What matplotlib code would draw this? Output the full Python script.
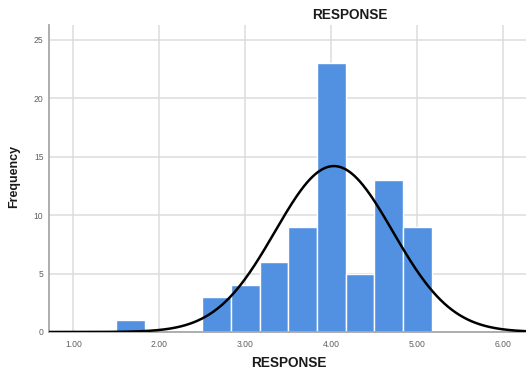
import numpy as np
import matplotlib
matplotlib.use("Agg")
import matplotlib.pyplot as plt

# Histogram of RESPONSE (bin width 1/3) with a fitted normal curve
bin_lefts = [1.50, 1.833, 2.167, 2.50, 2.833, 3.167, 3.50, 3.833, 4.167, 4.50, 4.833]
counts = [1, 0, 0, 3, 4, 6, 9, 23, 5, 13, 9]
bin_width = 1 / 3

fit_mean = 4.03
fit_std = 0.684
n_obs = 73

x_ticks = [1.0, 2.0, 3.0, 4.0, 5.0, 6.0]
x_ticklabels = ["1.00", "2.00", "3.00", "4.00", "5.00", "6.00"]
y_ticks = [0, 5, 10, 15, 20, 25]

plt.rcParams["font.family"] = ["Liberation Sans", "DejaVu Sans"]

fig = plt.figure(figsize=(5.26, 3.69), dpi=100)
ax = fig.add_axes([0.0932, 0.1003, 0.9068, 0.8320])

ax.set_axisbelow(True)
ax.grid(True, color="#dcdcdc", linewidth=1.1)

ax.bar(bin_lefts, counts, width=bin_width, align="edge",
       color="#5291e1", edgecolor="white", linewidth=1.0, zorder=2)

xs = np.linspace(0.70, 6.30, 500)
pdf = np.exp(-0.5 * ((xs - fit_mean) / fit_std) ** 2) / (fit_std * np.sqrt(2 * np.pi))
ax.plot(xs, n_obs * bin_width * pdf, color="black", linewidth=1.8, zorder=3)

ax.set_xlim(0.717, 6.264)
ax.set_ylim(0, 26.26)
ax.set_xticks(x_ticks)
ax.set_xticklabels(x_ticklabels)
ax.set_yticks(y_ticks)
ax.tick_params(axis="both", length=0, labelsize=6.2, labelcolor="#606060")
ax.tick_params(axis="x", pad=6)
ax.tick_params(axis="y", pad=4)

for side in ("top", "right"):
    ax.spines[side].set_visible(False)
for side in ("left", "bottom"):
    ax.spines[side].set_color("#a8a8a8")
    ax.spines[side].set_linewidth(1.3)

fig.text(0.665, 0.959, "RESPONSE", ha="center", va="center",
         fontsize=9.8, fontweight="bold", color="#1a1a1a")
fig.text(0.549, 0.017, "RESPONSE", ha="center", va="center",
         fontsize=9.8, fontweight="bold", color="#1a1a1a")
fig.text(0.027, 0.523, "Frequency", ha="center", va="center", rotation=90,
         fontsize=9, fontweight="bold", color="#1a1a1a")

fig.savefig("out.png", dpi=100)
